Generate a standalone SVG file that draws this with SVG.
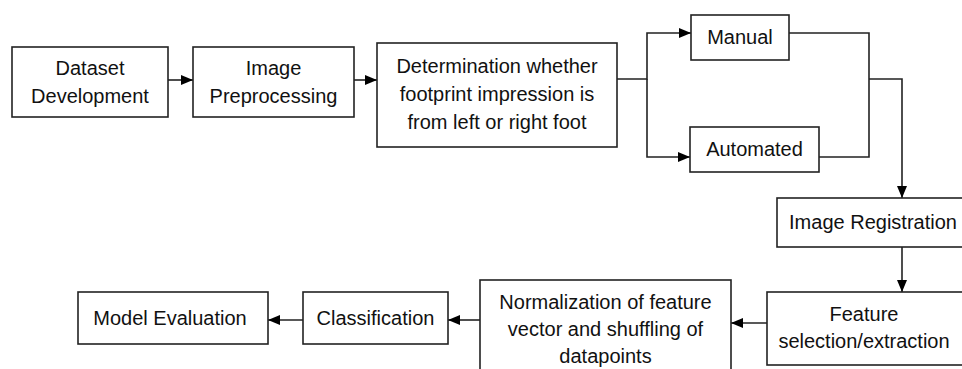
<svg xmlns="http://www.w3.org/2000/svg" width="962" height="369" viewBox="0 0 962 369">
<defs>
<marker id="ah" markerWidth="12" markerHeight="12" refX="12" refY="6" orient="auto" markerUnits="userSpaceOnUse">
<path d="M0,1 L12,6 L0,11 Z" fill="#000"/>
</marker>
<style>
.box{fill:#fff;stroke:#222;stroke-width:1.6}
.t{font-family:"Liberation Sans",Arial,sans-serif;font-size:20px;fill:#111;text-anchor:middle}
.c{fill:none;stroke:#222;stroke-width:1.6}
</style>
</defs>
<rect width="962" height="369" fill="#fff"/>
<g id="connectors">
<path class="c" d="M168,80 H193" marker-end="url(#ah)"/>
<path class="c" d="M354,80 H377" marker-end="url(#ah)"/>
<path class="c" d="M617,79 H647 V33 H691" marker-end="url(#ah)"/>
<path class="c" d="M647,79 V157 H690" marker-end="url(#ah)"/>
<path class="c" d="M789,33 H869 V157 H819"/>
<path class="c" d="M869,79 H902 V198" marker-end="url(#ah)"/>
<path class="c" d="M902,247 V292" marker-end="url(#ah)"/>
<path class="c" d="M767,323 H731" marker-end="url(#ah)"/>
<path class="c" d="M480,320 H448" marker-end="url(#ah)"/>
<path class="c" d="M303,320 H268" marker-end="url(#ah)"/>
</g>
<g id="dataset">
<rect class="box" x="12" y="47" width="156" height="70"/>
<text class="t" x="90" y="75">Dataset</text>
<text class="t" x="90" y="103">Development</text>
</g>
<g id="preprocessing">
<rect class="box" x="193" y="47" width="161" height="70"/>
<text class="t" x="273.5" y="75">Image</text>
<text class="t" x="273.5" y="103">Preprocessing</text>
</g>
<g id="determination">
<rect class="box" x="377" y="43" width="240" height="104"/>
<text class="t" x="497" y="73">Determination whether</text>
<text class="t" x="497" y="101">footprint impression is</text>
<text class="t" x="497" y="129">from left or right foot</text>
</g>
<g id="manual">
<rect class="box" x="691" y="15" width="98" height="45"/>
<text class="t" x="740" y="44">Manual</text>
</g>
<g id="automated">
<rect class="box" x="690" y="127" width="129" height="45"/>
<text class="t" x="754.5" y="156">Automated</text>
</g>
<g id="registration">
<rect class="box" x="777" y="198" width="200" height="49"/>
<text class="t" x="873" y="229">Image Registration</text>
</g>
<g id="feature">
<rect class="box" x="767" y="292" width="210" height="73"/>
<text class="t" x="864" y="321">Feature</text>
<text class="t" x="864" y="348">selection/extraction</text>
</g>
<g id="normalization">
<rect class="box" x="480" y="280" width="251" height="100"/>
<text class="t" x="605.5" y="309">Normalization of feature</text>
<text class="t" x="605.5" y="336">vector and shuffling of</text>
<text class="t" x="605.5" y="363">datapoints</text>
</g>
<g id="classification">
<rect class="box" x="303" y="292" width="145" height="52"/>
<text class="t" x="375.5" y="325">Classification</text>
</g>
<g id="evaluation">
<rect class="box" x="78" y="292" width="190" height="52"/>
<text class="t" x="170" y="325">Model Evaluation</text>
</g>
</svg>
